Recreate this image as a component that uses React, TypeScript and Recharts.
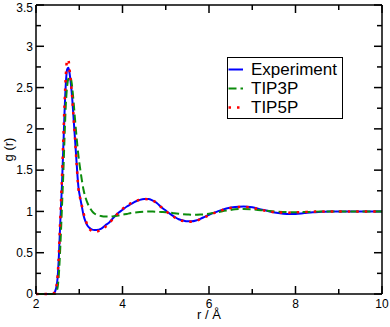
import { LineChart, Line, XAxis, YAxis, Legend, ReferenceLine } from "recharts"

// radial distribution of water
const r = [
  2.0, 2.2, 2.3, 2.35, 2.4, 2.44, 2.48, 2.5, 2.53, 2.56,
  2.6, 2.63, 2.66, 2.69, 2.72, 2.75, 2.78, 2.81, 2.84, 2.87,
  2.9, 2.94, 2.98, 3.02, 3.06, 3.1, 3.15, 3.2, 3.25, 3.3,
  3.35, 3.4, 3.5, 3.6, 3.7, 3.8, 3.9, 4.0, 4.1, 4.2,
  4.3, 4.4, 4.5, 4.6, 4.7, 4.8, 4.9, 5.0, 5.1, 5.2,
  5.3, 5.4, 5.5, 5.6, 5.7, 5.8, 5.9, 6.0, 6.2, 6.4,
  6.6, 6.8, 7.0, 7.2, 7.4, 7.6, 7.8, 8.0, 8.2, 8.4,
  8.6, 8.8, 9.0, 9.25, 9.5, 9.75, 10.0,
]

const experiment = [
  0, 0, 0, 0, 0.005, 0.03, 0.11, 0.2, 0.47, 0.85,
  1.32, 1.75, 2.2, 2.55, 2.72, 2.74, 2.66, 2.53, 2.35, 2.12,
  1.89, 1.58, 1.3, 1.17, 1.06, 0.95, 0.87, 0.82, 0.795, 0.78,
  0.775, 0.776, 0.79, 0.83, 0.87, 0.93, 0.98, 1.02, 1.06, 1.09,
  1.12, 1.14, 1.15, 1.15, 1.13, 1.1, 1.05, 1.01, 0.97, 0.935,
  0.905, 0.89, 0.88, 0.88, 0.89, 0.91, 0.935, 0.96, 1.0, 1.035,
  1.055, 1.06, 1.05, 1.025, 1.0, 0.98, 0.97, 0.97, 0.98, 0.99,
  0.995, 1.0, 1.0, 1.0, 1.0, 1.0, 1.0,
]

const tip3p = [
  0, 0, 0, 0, 0, 0, 0.04, 0.08, 0.25, 0.55,
  1.05, 1.44, 1.9, 2.3, 2.52, 2.61, 2.63, 2.6, 2.49, 2.32,
  2.13, 1.89, 1.68, 1.52, 1.38, 1.26, 1.16, 1.09, 1.04, 1.0,
  0.975, 0.96, 0.945, 0.938, 0.938, 0.942, 0.95, 0.96, 0.97, 0.98,
  0.988, 0.993, 0.996, 0.998, 0.998, 0.996, 0.993, 0.99, 0.985, 0.978,
  0.972, 0.967, 0.963, 0.96, 0.96, 0.962, 0.966, 0.972, 0.99, 1.01,
  1.025, 1.03, 1.025, 1.015, 1.005, 0.997, 0.992, 0.99, 0.992, 0.996,
  1.0, 1.0, 1.0, 1.0, 1.0, 1.0, 1.0,
]

const tip5p = [
  0, 0, 0, 0, 0.005, 0.03, 0.12, 0.22, 0.5, 0.9,
  1.4, 1.85, 2.3, 2.65, 2.84, 2.83, 2.7, 2.55, 2.36, 2.13,
  1.9, 1.57, 1.28, 1.16, 1.07, 0.98, 0.89, 0.82, 0.78, 0.76,
  0.752, 0.755, 0.775, 0.81, 0.86, 0.92, 0.98, 1.03, 1.07, 1.1,
  1.125, 1.14, 1.15, 1.148, 1.13, 1.1, 1.05, 1.005, 0.965, 0.93,
  0.9, 0.885, 0.875, 0.875, 0.885, 0.905, 0.93, 0.955, 0.995, 1.03,
  1.05, 1.055, 1.045, 1.02, 1.0, 0.988, 0.985, 0.988, 0.993, 0.997,
  1.0, 1.0, 1.0, 1.0, 1.0, 1.0, 1.0,
]

const xTicks = [2, 3, 4, 5, 6, 7, 8, 9, 10]
const yTicks = [0, 0.25, 0.5, 0.75, 1, 1.25, 1.5, 1.75, 2, 2.25, 2.5, 2.75, 3, 3.25, 3.5]

const series = [
  { key: "experiment", name: "Experiment", color: "#0000ff", dash: undefined, width: 2 },
  { key: "tip3p", name: "TIP3P", color: "#0c8c0c", dash: "8 4", width: 2 },
  { key: "tip5p", name: "TIP5P", color: "#ff0000", dash: "2.5 6", width: 2.5 },
]

const data = r.map((v, i) => ({
  r: v,
  experiment: experiment[i],
  tip3p: tip3p[i],
  tip5p: tip5p[i],
}))

const X_MIN = 2
const X_MAX = 10
const Y_MIN = 0
const Y_MAX = 3.5

// chart geometry
const W = 390
const H = 327
const MARGIN = { top: 4, right: 7, bottom: 0, left: 0 }
const X_AXIS_H = 33
const Y_AXIS_W = 36
const PLOT_W = W - MARGIN.left - MARGIN.right - Y_AXIS_W - 1
const PLOT_H = H - MARGIN.top - MARGIN.bottom - X_AXIS_H - 1

// inward tick marks (recharts axis tick lines only point outward), lengths in px
const MAJOR = 8
const MINOR = 5
const isMajorX = (v: number) => v % 2 === 0
const isMajorY = (v: number) => Math.abs(v * 2 - Math.round(v * 2)) < 1e-6
const dyPx = (Y_MAX - Y_MIN) / PLOT_H
const dxPx = (X_MAX - X_MIN) / PLOT_W

const tickSegments = [
  ...xTicks.flatMap((v) => {
    const len = (isMajorX(v) ? MAJOR : MINOR) * dyPx
    return [
      [{ x: v, y: Y_MIN }, { x: v, y: Y_MIN + len }],
      [{ x: v, y: Y_MAX }, { x: v, y: Y_MAX - len }],
    ]
  }),
  ...yTicks.flatMap((v) => {
    const len = (isMajorY(v) ? MAJOR : MINOR) * dxPx
    return [
      [{ x: X_MIN, y: v }, { x: X_MIN + len, y: v }],
      [{ x: X_MAX, y: v }, { x: X_MAX - len, y: v }],
    ]
  }),
]

function BottomTick(props: any) {
  const v = props.payload.value
  if (!isMajorX(v)) return null
  return (
    <text x={props.x} y={Number(props.y) + 13.5} textAnchor="middle" fontSize={12} fill="#000">
      {v}
    </text>
  )
}

function LeftTick(props: any) {
  const v = props.payload.value
  if (!isMajorY(v)) return null
  return (
    <text x={Number(props.x) - 3} y={Math.max(Number(props.y) + 4.3, 11.5)} textAnchor="end" fontSize={12} fill="#000">
      {v}
    </text>
  )
}

function LegendBox() {
  return (
    <div
      style={{
        border: "1px solid #000",
        background: "#fff",
        width: 114,
        height: 58,
        boxSizing: "content-box",
        paddingTop: 2,
        fontSize: 17,
        lineHeight: "19px",
        color: "#000",
      }}
    >
      {series.map((s) => (
        <div key={s.key} style={{ display: "flex", alignItems: "flex-start", height: 19 }}>
          <svg width={23} height={19} style={{ flex: "none" }}>
            <line
              x1={0.5}
              y1={9.5}
              x2={15}
              y2={9.5}
              stroke={s.color}
              strokeWidth={s.width}
              strokeDasharray={s.dash}
            />
          </svg>
          <span>{s.name}</span>
        </div>
      ))}
    </div>
  )
}

const axisLine = { stroke: "#000", strokeWidth: 1.5 }

export default function App() {
  return (
    <div style={{ position: "absolute", left: 0, top: 0, fontFamily: "'Liberation Sans', Arial, sans-serif" }}>
      <LineChart width={W} height={H} data={data} margin={MARGIN}>
        <XAxis
          dataKey="r"
          type="number"
          domain={[X_MIN, X_MAX]}
          ticks={xTicks}
          interval={0}
          height={X_AXIS_H}
          tickSize={0}
          tickMargin={0}
          tickLine={false}
          tick={<BottomTick />}
          axisLine={axisLine}
          label={{ value: "r / Å", position: "insideBottom", offset: 8, fontSize: 13, fill: "#000" }}
        />
        <XAxis
          xAxisId="top"
          dataKey="r"
          type="number"
          orientation="top"
          domain={[X_MIN, X_MAX]}
          ticks={xTicks}
          height={1}
          tickLine={false}
          tick={false}
          axisLine={axisLine}
        />
        <YAxis
          type="number"
          domain={[Y_MIN, Y_MAX]}
          ticks={yTicks}
          interval={0}
          width={Y_AXIS_W}
          tickSize={0}
          tickMargin={0}
          tickLine={false}
          tick={<LeftTick />}
          axisLine={axisLine}
          label={{
            value: "g (r)",
            angle: -90,
            position: "insideLeft",
            offset: 8,
            fontSize: 13,
            fill: "#000",
            style: { textAnchor: "middle" },
          }}
        />
        <YAxis
          yAxisId="right"
          type="number"
          orientation="right"
          domain={[Y_MIN, Y_MAX]}
          ticks={yTicks}
          width={1}
          tickLine={false}
          tick={false}
          axisLine={axisLine}
        />
        {tickSegments.map((seg, i) => (
          <ReferenceLine key={`t${i}`} segment={seg} stroke="#000" strokeWidth={1.5} ifOverflow="visible" />
        ))}
        <Legend
          layout="vertical"
          align="center"
          verticalAlign="middle"
          wrapperStyle={{ left: 227, top: 57, width: 116 }}
          content={<LegendBox />}
        />
        {series.map((s) => (
          <Line
            key={s.key}
            type="monotone"
            dataKey={s.key}
            name={s.name}
            stroke={s.color}
            strokeWidth={s.width}
            strokeDasharray={s.dash}
            dot={false}
            activeDot={false}
            isAnimationActive={false}
          />
        ))}
      </LineChart>
    </div>
  )
}
